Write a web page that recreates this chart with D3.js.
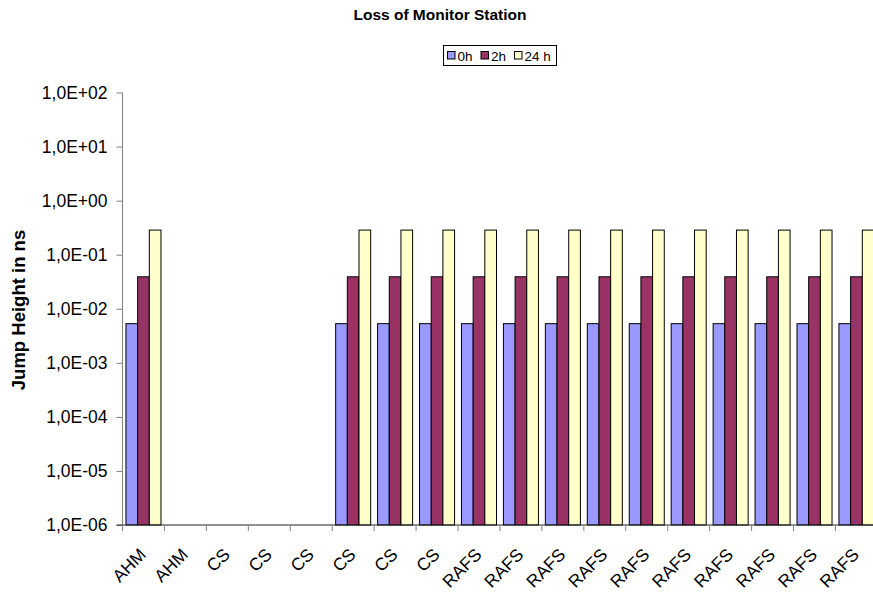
<!DOCTYPE html>
<html>
<head>
<meta charset="utf-8">
<script src="https://cdn.jsdelivr.net/npm/d3@7"></script>
<style>
  html, body { margin: 0; padding: 0; background: #fff; }
  svg { display: block; font-family: Arial, "Liberation Sans", sans-serif; }
</style>
</head>
<body>
<svg id="chart" width="873" height="592"></svg>
<script>
const categories = ["AHM","AHM","CS","CS","CS","CS","CS","CS","RAFS","RAFS","RAFS","RAFS","RAFS","RAFS","RAFS","RAFS","RAFS","RAFS"];
const seriesNames = ["0h","2h","24 h"];
const seriesColors = ["#9999FF","#993366","#FFFFCC"];
const values0h  = [0.0053,null,null,null,null,0.0053,0.0053,0.0053,0.0053,0.0053,0.0053,0.0053,0.0053,0.0053,0.0053,0.0053,0.0053,0.0053];
const values2h  = [0.039,null,null,null,null,0.039,0.039,0.039,0.039,0.039,0.039,0.039,0.039,0.039,0.039,0.039,0.039,0.039];
const values24h = [0.285,null,null,null,null,0.285,0.285,0.285,0.285,0.285,0.285,0.285,0.285,0.285,0.285,0.285,0.285,0.285];
const yTicks = [1e-6,1e-5,1e-4,1e-3,1e-2,1e-1,1e0,1e1,1e2];
const yTickLabels = ["1,0E-06","1,0E-05","1,0E-04","1,0E-03","1,0E-02","1,0E-01","1,0E+00","1,0E+01","1,0E+02"];
const chartTitle = "Loss of Monitor Station";
const yTitle = "Jump Height in ns";

const series = [values0h, values2h, values24h];
const svg = d3.select("#chart");

const pLeft = 122.5, pRight = 122.5 + 18 * 41.94, pTop = 92.5, pBottom = 525;

const x0 = d3.scaleBand().domain(d3.range(categories.length)).range([pLeft, pRight])
  .paddingInner(0.165).paddingOuter(0.0825);
const x1 = d3.scaleBand().domain(d3.range(series.length)).range([0, x0.bandwidth()]);
const y = d3.scaleLog().domain([1e-6, 1e2]).range([pBottom, pTop]);

// bars
series.forEach((vals, si) => {
  svg.append("g").selectAll("rect")
    .data(vals.map((v, i) => ({v, i})).filter(d => d.v != null))
    .join("rect")
    .attr("x", d => x0(d.i) + x1(si))
    .attr("y", d => y(d.v))
    .attr("width", x1.bandwidth())
    .attr("height", d => pBottom - y(d.v))
    .attr("fill", seriesColors[si])
    .attr("stroke", "#000")
    .attr("stroke-width", 1);
});

// y axis
const yAxis = d3.axisLeft(y).tickValues(yTicks)
  .tickFormat((d, i) => yTickLabels[i]).tickSize(6).tickPadding(9);
const gy = svg.append("g").attr("transform", `translate(${pLeft},0)`).call(yAxis);
gy.select(".domain").attr("stroke", "#808080").attr("d", `M0,${pTop}V${pBottom}`);
gy.selectAll(".tick line").attr("stroke", "#808080");
gy.selectAll(".tick text").attr("font-size", 17.5).attr("fill", "#000")
  .attr("font-family", "Arial, 'Liberation Sans', sans-serif");

// x axis
const xBand = d3.scaleBand().domain(d3.range(categories.length)).range([pLeft, pRight]);
const gx = svg.append("g").attr("transform", `translate(0,${pBottom})`);
gx.append("line").attr("x1", pLeft - 6).attr("x2", pRight).attr("y1", 0).attr("y2", 0)
  .attr("stroke", "#222").attr("stroke-width", 1);
gx.selectAll("line.tk").data(d3.range(categories.length + 1)).join("line")
  .attr("class", "tk")
  .attr("x1", i => pLeft + i * xBand.step()).attr("x2", i => pLeft + i * xBand.step())
  .attr("y1", 0).attr("y2", 6).attr("stroke", "#808080");
gx.selectAll("text").data(categories).join("text")
  .attr("transform", (d, i) => `translate(${xBand(i) + xBand.bandwidth() / 2 - 5},${22}) rotate(-45)`)
  .attr("text-anchor", "end")
  .attr("dy", "0.7em")
  .attr("font-size", 17.5)
  .text(d => d);

// title
svg.append("text").attr("x", 440).attr("y", 20).attr("text-anchor", "middle")
  .attr("font-weight", "bold").attr("font-size", 15.5).text(chartTitle);

// y title
svg.append("text").attr("transform", `translate(25,310) rotate(-90)`)
  .attr("text-anchor", "middle").attr("font-weight", "bold").attr("font-size", 18.5).text(yTitle);

// legend
const lg = svg.append("g");
lg.append("rect").attr("x", 443.5).attr("y", 45.5).attr("width", 113).attr("height", 20)
  .attr("fill", "#fff").attr("stroke", "#000");
const legX = [447.5, 481, 514.5];
seriesNames.forEach((n, i) => {
  lg.append("rect").attr("x", legX[i]).attr("y", 51.5).attr("width", 7.5).attr("height", 7.5)
    .attr("fill", seriesColors[i]).attr("stroke", "#000");
  lg.append("text").attr("x", legX[i] + 10).attr("y", 60.5).attr("font-size", 13.5).text(n);
});
</script>
</body>
</html>
